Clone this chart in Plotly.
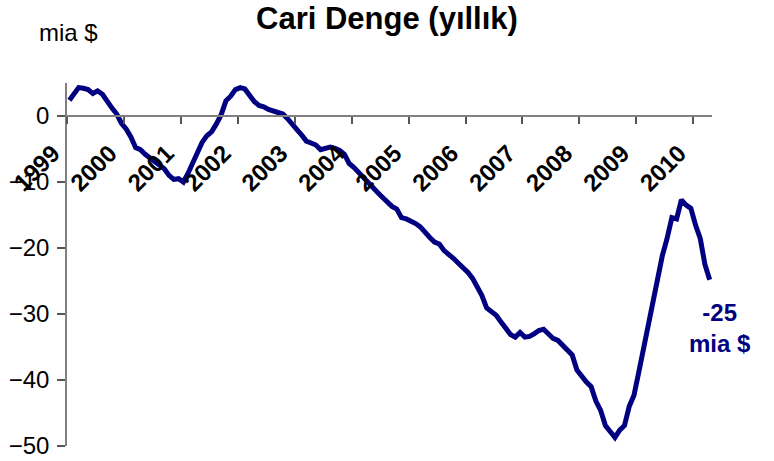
import pandas as pd
import plotly.graph_objects as go

# Monthly 12-month rolling current account balance, Jan 1999 - Apr 2010 (bn $)
start_month = "1999-01-01"
values = [
    2.4, 3.5, 4.3, 4.2, 4.0, 3.4, 3.8, 3.3, 2.4, 1.2,
    0.3, -1.1, -2.0, -3.2, -4.8, -5.1, -5.8, -6.4, -6.9, -7.5,
    -8.0, -9.0, -9.6, -9.5, -10.0, -8.7, -7.2, -5.6, -4.0, -3.0,
    -2.4, -1.2, 0.2, 2.3, 3.0, 4.0, 4.3, 4.1, 3.2, 2.2,
    1.6, 1.4, 1.0, 0.8, 0.5, 0.3, -0.4, -1.4, -2.1, -2.9,
    -3.8, -4.1, -4.4, -5.1, -4.9, -4.7, -4.9, -5.2, -5.8, -7.2,
    -7.8, -8.6, -9.4, -10.2, -10.9, -11.6, -12.3, -13.0, -13.7, -14.1,
    -15.4, -15.6, -15.9, -16.3, -16.8, -17.7, -18.4, -19.1, -19.4, -20.4,
    -20.9, -21.6, -22.3, -22.9, -23.7, -24.6, -25.9, -27.2, -29.1, -29.7,
    -30.2, -31.2, -32.3, -33.1, -33.5, -32.8, -33.5, -33.4, -33.0, -32.5,
    -32.3, -33.0, -33.7, -34.0, -34.7, -35.6, -36.2, -38.5, -39.5, -40.3,
    -41.0, -43.2, -44.6, -46.9, -47.8, -48.7, -47.6, -46.9, -44.0, -42.3,
    -38.8, -35.3, -31.8, -27.5, -24.8, -21.2, -18.6, -15.4, -15.6, -12.7,
    -13.5, -14.0, -16.6, -18.6, -22.5, -24.8,
]
months = pd.date_range(start_month, periods=len(values), freq="MS")

year_labels = [str(y) for y in range(1999, 2011)]
year_ticks = [f"{y}-01-01" for y in range(1999, 2011)]
y_ticks = [0, -10, -20, -30, -40, -50]

title_text = "Cari Denge (yıllık)"
unit_text = "mia $"
end_label = "-25<br>mia $"

navy = "#000080"
font_family = "Arial, 'Liberation Sans', sans-serif"

fig = go.Figure()
fig.add_trace(go.Scatter(
    x=months, y=values, mode="lines",
    xperiod="M1", xperiodalignment="middle",
    line=dict(color=navy, width=5),
    showlegend=False,
))

y_min, y_max = -50, 5
fig.update_layout(
    width=774, height=461,
    margin=dict(l=67, r=62, t=83, b=15, autoexpand=False),
    paper_bgcolor="white", plot_bgcolor="white",
    font=dict(family=font_family, color="black"),
    title=dict(text=title_text, x=0.5, xanchor="center", y=1 - 18 / 461, yanchor="middle",
               font=dict(size=31, family=font_family, weight="bold", color="black")),
    xaxis=dict(
        type="date",
        range=["1999-01-01", "2010-05-01"],
        tickvals=year_ticks, ticktext=year_labels,
        tickangle=-45,
        tickfont=dict(size=24, family=font_family, weight="bold", color="black"),
        ticks="outside", ticklen=7, tickcolor="#555555", tickwidth=1.5,
        showline=True, linecolor="#808080", linewidth=1.5,
        showgrid=False, zeroline=False, automargin=False,
        anchor="free", position=(0 - y_min) / (y_max - y_min),
        ticklabelstandoff=6, ticklabelshift=-14,
    ),
    yaxis=dict(
        range=[y_min, y_max],
        tickvals=y_ticks,
        tickfont=dict(size=24, family=font_family, color="black"),
        ticks="outside", ticklen=8, tickcolor="#555555", tickwidth=1.5,
        showline=True, linecolor="#808080", linewidth=1.5,
        showgrid=False, zeroline=False, automargin=False,
        ticklabelstandoff=3,
    ),
)

fig.add_annotation(text=unit_text, xref="paper", yref="paper",
                   x=(68.5 - 67) / 645, y=1 + (83 - 32) / 363, xanchor="center", yanchor="middle",
                   showarrow=False, font=dict(size=24, family=font_family, color="black"))
fig.add_annotation(text=end_label, xref="paper", yref="paper",
                   x=(720 - 67) / 645, y=(446 - 327.5) / 363, xanchor="center", yanchor="middle",
                   showarrow=False, align="center",
                   font=dict(size=24, family=font_family, weight="bold", color=navy))

fig.write_html("out.html",
               config={"displayModeBar": False},
               post_script="document.body.style.margin='0';document.body.style.overflow='hidden';")
